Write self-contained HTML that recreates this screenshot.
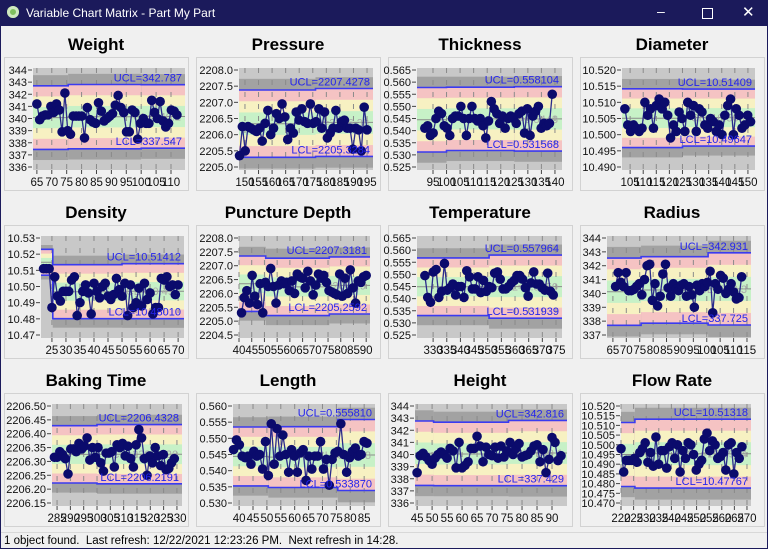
<!DOCTYPE html>
<html><head><meta charset="utf-8"><style>
html,body{margin:0;padding:0;width:768px;height:549px;overflow:hidden;background:#f0f0f0;font-family:"Liberation Sans",sans-serif}
#tb{position:absolute;left:0;top:0;width:768px;height:26px;background:#1b1a5b;color:#fff;font-size:12px}
#sb{position:absolute;left:1px;top:532px;width:766px;height:16px;border-top:1px solid #d8d8d8;font-size:11.5px;line-height:16px;white-space:pre;padding-left:3px;box-sizing:border-box}
#frame{position:absolute;left:0;top:26px;width:768px;height:523px;border-left:1px solid #1b1a5b;border-right:1px solid #1b1a5b;border-bottom:1px solid #1b1a5b;box-sizing:border-box}
svg{position:absolute;left:0;top:0}
</style></head><body>
<div id="tb">
 <span style="position:absolute;left:7px;top:6px;width:12px;height:12px;border-radius:6px;background:#7fbf5f;box-shadow:inset 0 0 0 3px #cfe8c0"></span>
 <span style="position:absolute;left:26px;top:6px">Variable Chart Matrix - Part My Part</span>
 <span style="position:absolute;left:657px;top:3px;font-size:14px">&#8211;</span>
 <span style="position:absolute;left:702px;top:8px;width:9px;height:9px;border:1px solid #fff"></span>
 <span style="position:absolute;left:742px;top:3px;font-size:15px">&#10005;</span>
</div>
<div id="frame"></div>
<svg id="s" width="768" height="549"></svg>
<div id="sb">1 object found.  Last refresh: 12/22/2021 12:23:26 PM.  Next refresh in 14:28.</div>
<script>
const weightValues=[341.2,339.9,340.2,340.3,340.3,341.0,340.5,341.2,340.7,338.9,342.1,339.0,338.7,340.2,340.2,340.2,340.2,338.4,340.9,339.9,339.7,339.6,341.3,340.6,339.8,340.0,340.2,340.4,341.1,341.9,340.9,340.5,338.9,338.9,340.7,340.5,338.3,339.6,340.0,339.6,339.6,341.5,340.5,340.0,341.4,339.8,339.3,339.6,340.7,340.6,340.3];
const pressureValues=[2205.35,2206.25,2205.5,2206.25,2206.2,2206.15,2206.1,2206.2,2205.8,2206.35,2206.75,2206.0,2206.2,2206.65,2206.5,2206.95,2206.55,2205.85,2206.2,2206.05,2206.7,2206.45,2206.8,2206.4,2206.35,2206.95,2206.35,2206.4,2206.8,2206.2,2206.7,2205.9,2206.05,2206.2,2206.75,2206.2,2206.4,2206.45,2206.2,2206.2,2205.55,2206.2,2206.15,2205.5,2206.85,2206.15];
const thicknessValues=[0.541,0.542,0.538,0.539,0.545,0.548,0.547,0.542,0.541,0.538,0.545,0.546,0.546,0.550,0.545,0.538,0.545,0.550,0.545,0.544,0.545,0.542,0.537,0.544,0.552,0.549,0.547,0.543,0.546,0.541,0.545,0.546,0.545,0.543,0.547,0.548,0.539,0.549,0.538,0.546,0.548,0.550,0.541,0.543,0.542,0.543,0.555];
const diameterValues=[10.508,10.503,10.501,10.503,10.502,10.501,10.502,10.510,10.506,10.508,10.502,10.509,10.511,10.508,10.510,10.506,10.499,10.503,10.501,10.507,10.505,10.501,10.510,10.506,10.509,10.501,10.508,10.507,10.503,10.502,10.505,10.504,10.501,10.503,10.500,10.506,10.509,10.511,10.500,10.508,10.506,10.502,10.503,10.506,10.504];
const densityValues=[10.511,10.511,10.511,10.487,10.506,10.494,10.491,10.497,10.497,10.497,10.504,10.506,10.482,10.490,10.497,10.501,10.496,10.483,10.502,10.497,10.493,10.500,10.502,10.494,10.492,10.495,10.505,10.498,10.494,10.502,10.482,10.501,10.487,10.490,10.499,10.488,10.502,10.492,10.496,10.483,10.487,10.487,10.505,10.504,10.506,10.500,10.501,10.495,10.501];
const punctureValues=[2205.3,2205.85,2206.1,2205.65,2206.65,2205.9,2205.6,2206.35,2205.3,2206.4,2206.25,2206.9,2206.25,2205.65,2206.3,2206.45,2206.35,2206.4,2206.1,2206.45,2206.0,2206.7,2206.6,2206.55,2206.2,2206.8,2206.45,2205.95,2206.3,2206.7,2206.55,2206.65,2206.4,2206.1,2206.05,2206.0,2205.95,2206.7,2205.9,2206.55,2206.0,2206.85,2206.2,2205.65,2206.45,2206.4,2206.6,2206.65];
const temperatureValues=[0.5495,0.5405,0.5385,0.551,0.552,0.5405,0.543,0.5545,0.5435,0.5445,0.546,0.5415,0.545,0.545,0.5405,0.5515,0.549,0.544,0.544,0.549,0.5425,0.5475,0.543,0.545,0.5445,0.5505,0.551,0.548,0.544,0.544,0.545,0.5465,0.5475,0.5495,0.5495,0.548,0.5445,0.541,0.5465,0.551,0.546,0.546,0.5445,0.5435,0.5505,0.543,0.5415];
const radiusValues=[340.5,341.5,340.8,340.5,341.5,340.2,340.2,340.3,340.5,340.7,339.9,341.0,342.0,342.1,339.5,340.7,339.1,339.8,341.4,342.1,340.4,339.8,340.7,340.3,340.2,340.6,340.7,339.8,340.5,339.9,339.0,340.6,340.2,340.7,340.5,340.8,341.6,338.6,340.7,340.3,341.3,341.1,340.0,340.3,340.7,340.1,339.6,339.7,341.2];
const bakingValues=[2206.315,2206.315,2206.335,2206.325,2206.31,2206.255,2206.345,2206.345,2206.335,2206.365,2206.345,2206.355,2206.385,2206.305,2206.35,2206.315,2206.35,2206.295,2206.265,2206.33,2206.33,2206.335,2206.28,2206.36,2206.35,2206.365,2206.32,2206.355,2206.31,2206.28,2206.36,2206.415,2206.385,2206.31,2206.25,2206.32,2206.295,2206.35,2206.32,2206.285,2206.325,2206.27,2206.275,2206.295,2206.31];
const lengthValues=[0.5465,0.5495,0.548,0.5445,0.544,0.5445,0.542,0.546,0.5445,0.545,0.5405,0.549,0.5385,0.5545,0.542,0.553,0.5445,0.551,0.545,0.5395,0.5465,0.5445,0.5395,0.5455,0.5465,0.537,0.5445,0.5405,0.5445,0.5445,0.549,0.5405,0.5435,0.5355,0.5435,0.5455,0.546,0.5545,0.545,0.5395,0.544,0.546,0.547,0.5445,0.545,0.549,0.5485];
const heightValues=[338.5,339.9,340.1,339.8,339.5,339.2,339.7,340.0,340.2,340.0,339.7,340.5,340.3,338.9,341.0,338.9,339.1,339.4,340.5,340.5,341.5,340.7,339.4,340.6,340.0,339.9,340.6,339.7,340.7,339.8,340.3,341.0,340.0,340.5,340.9,339.8,339.9,340.0,340.3,340.7,340.8,339.4,340.4,338.5,339.6,341.4,341.0,339.5,339.9];
const flowValues=[10.498,10.486,10.492,10.492,10.492,10.493,10.491,10.496,10.498,10.501,10.491,10.496,10.489,10.504,10.490,10.497,10.497,10.488,10.499,10.501,10.493,10.500,10.486,10.497,10.493,10.501,10.500,10.495,10.487,10.490,10.492,10.503,10.506,10.497,10.502,10.500,10.493,10.494,10.496,10.487,10.500,10.501,10.485,10.496,10.493,10.499];
const chartTitles=["Weight","Pressure","Thickness","Diameter","Density","Puncture Depth","Temperature","Radius","Baking Time","Length","Height","Flow Rate"];
const seriesList=[weightValues,pressureValues,thicknessValues,diameterValues,densityValues,punctureValues,temperatureValues,radiusValues,bakingValues,lengthValues,heightValues,flowValues];
const firstLastX=[[65,112],[148,195],[92,139],[103,151],[22,70],[41,90],[327,374],[66,113],[284,329],[38,86],[45,93],[220,268]];
const xDomains=[[63.7,114.7],[147.8,197.2],[89.1,142.6],[101.9,152.7],[21.1,72.1],[40,91.5],[324.1,377.2],[62.8,116.5],[283.1,331.9],[37.8,88.9],[44.3,95],[220,271.6]];
const xTickStart=[65,150,95,105,25,40,330,65,285,40,45,220];
const xTickEnd=[110,195,140,150,70,90,375,115,330,85,90,270];
const yDomains=[[336,344],[2205,2208],[0.525,0.565],[10.49,10.52],[10.47,10.53],[2204.5,2208],[0.525,0.565],[337,344],[2206.15,2206.5],[0.53,0.56],[336,344],[10.47,10.52]];
const yTickStep=[1,0.5,0.005,0.005,0.01,0.5,0.005,1,0.05,0.005,1,0.005];
const yDecimals=[0,1,3,3,2,1,3,0,2,3,0,3];
const uclLabels=["342.787","2207.4278","0.558104","10.51409","10.51412","2207.3181","0.557964","342.931","2206.4328","0.555810","342.816","10.51318"];
const lclLabels=["337.547","2205.3284","0.531568","10.49647","10.48010","2205.2592","0.531939","337.725","2206.2191","0.533870","337.429","10.47767"];
const segStarts=[[63.7,75.5,100],[147.8,176],[89.1,100,125],[101.9,125],[21.1,25.3,50],[40,50.5,75.5],[324.1,350.5],[62.8,75.5,100.5],[283.1,300],[37.8,50.5,75.5],[44.3,50.5,75.5],[220,225.5]];
const segUCL=[[342.7,342.8,342.787],[2207.38,2207.4278],[0.5578,0.5579,0.558104],[10.5142,10.51409],[10.523,10.5135,10.51412],[2207.35,2207.27,2207.3181],[0.5568,0.557964],[342.55,342.65,342.931],[2206.429,2206.4328],[0.5535,0.5536,0.55581],[342.76,342.66,342.816],[10.5115,10.51318]];
const segLCL=[[337.45,337.5,337.547],[2205.3,2205.3284],[0.5312,0.5318,0.531568],[10.496,10.49647],[10.507,10.4801,10.4801],[2205.35,2205.2,2205.2592],[0.533,0.531939],[337.7,337.85,337.725],[2206.222,2206.2191],[0.5353,0.5348,0.53387],[337.45,337.43,337.429],[10.4785,10.47767]];
// layout (pixels)
const colX=[4,196,388,580], rowY=[57,225,393];
const plotLeft=[33,239,417,622,41,239,417,607,52,233,415,621];
const plotRight=[185,373,562,755,184,370,562,751,182,375,567,751];
const S=document.getElementById('s');
const NS='http://www.w3.org/2000/svg';
function mk(t,a,p){const e=document.createElementNS(NS,t);for(const k in a)e.setAttribute(k,a[k]);(p||S).appendChild(e);return e;}
for(let c=0;c<12;c++){
  const fx=colX[c%4], fy=rowY[Math.floor(c/4)];
  const g=mk('g',{});
  
  
  const fr=mk('rect',{x:fx+0.5,y:fy+0.5,width:184,height:133,fill:'#f0f0f0',stroke:'#d2d2d2'},g);
  
  
  const tt=mk('text',{x:fx+92,y:fy-7,'text-anchor':'middle','font-size':'17','font-weight':'bold',fill:'#000'},g);
  tt.textContent=chartTitles[c];
  
  
  const L=plotLeft[c],R=plotRight[c],T=fy+11,B=fy+113;
  const [ymin,ymax]=yDomains[c],[xmin,xmax]=xDomains[c];
  const Y=v=>fy+13+(ymax-v)/(ymax-ymin)*97;
  const X=v=>L+(v-xmin)/(xmax-xmin)*(R-L);
  const clip=v=>Math.max(T,Math.min(B,v));
  const bg=mk('rect',{x:L,y:T,width:R-L,height:B-T,fill:'#c8c8c8'},g);
  
  
  const st=segStarts[c];
  let uPts=[],lPts=[],cPts=[];
  for(let s=0;s<st.length;s++){
    const x0=X(st[s]),x1=s+1<st.length?X(st[s+1]):R;
    const u=segUCL[c][s],l=segLCL[c][s],cl=(u+l)/2,sg=(u-l)/6;
    [[4,'#a2a2a2'],[3,'#f5c3c3'],[2,'#f7f1c2'],[1,'#c7f1c7']].forEach(([k,col])=>{
      const y0=clip(Y(cl+k*sg)),y1=clip(Y(cl-k*sg));
      const r=mk('rect',{x:x0,y:y0,width:x1-x0,height:y1-y0,fill:col},g);
      
      
    });
    uPts.push([x0,Y(u)],[x1,Y(u)]);lPts.push([x0,Y(l)],[x1,Y(l)]);cPts.push([x0,Y(cl)],[x1,Y(cl)]);
  }
  const xt=[];for(let v=xTickStart[c];v<=xTickEnd[c]+1e-9;v+=5)xt.push(v);
  xt.forEach(v=>{
    const gl=mk('line',{x1:X(v),x2:X(v),y1:T,y2:B,stroke:'#8a8a8a','stroke-dasharray':'5,7','stroke-width':1},g);
    
    
    mk('line',{x1:X(v),x2:X(v),y1:B,y2:B+4,stroke:'#444'},g);
    const lb=mk('text',{x:X(v),y:fy+129,'text-anchor':'middle','font-size':'11.5',fill:'#111'},g);
    lb.textContent=v;
    
    
  });
  const pl=a=>a.map(p=>p[0].toFixed(1)+','+p[1].toFixed(1)).join(' ');
  const cll=mk('polyline',{points:pl(cPts),fill:'none',stroke:'#8c8c8c','stroke-width':1},g);
  
  
  const ul=mk('polyline',{points:pl(uPts),fill:'none',stroke:'#3b3bf0','stroke-width':1.6},g);
  
  
  const ll=mk('polyline',{points:pl(lPts),fill:'none',stroke:'#3b3bf0','stroke-width':1.6},g);
  
  
  const nSeg=st.length-1,ucl=segUCL[c][nSeg],lcl=segLCL[c][nSeg];
  const clt=mk('text',{x:R-4,y:Y((ucl+lcl)/2)+4,'text-anchor':'end','font-size':'11',fill:'#aaa'},g);
  clt.textContent='CL='+((ucl+lcl)/2).toFixed(yDecimals[c]+1);
  
  
  for(let v=ymin;v<=ymax+1e-9;v+=yTickStep[c]){
    mk('line',{x1:L-5,x2:L-1,y1:Y(v),y2:Y(v),stroke:'#444'},g);
    const lb=mk('text',{x:L-6,y:Y(v)+4,'text-anchor':'end','font-size':'11',fill:'#111'},g);
    lb.textContent=v.toFixed(yDecimals[c]);
    
    
  }
  const vals=seriesList[c],[fx0,fx1]=firstLastX[c],step=(fx1-fx0)/(vals.length-1);
  const pts=vals.map((v,i)=>[X(fx0+i*step),Y(v)]);
  const ln=mk('polyline',{points:pl(pts),fill:'none',stroke:'#2a2a8c','stroke-width':1.3},g);
  
  
  pts.forEach(p=>{
    const d=mk('circle',{cx:p[0],cy:p[1],r:4.8,fill:'#0b0b6c'},g);
    
    
  });
  const ut=mk('text',{x:R-3,y:Y(ucl)-3,'text-anchor':'end','font-size':'11',fill:'#2424ee'},g);
  ut.textContent='UCL='+uclLabels[c];
  
  
  const lt=mk('text',{x:R-3,y:Y(lcl)-3,'text-anchor':'end','font-size':'11',fill:'#2424ee'},g);
  lt.textContent='LCL='+lclLabels[c];
  
  
}
</script>
</body></html>
